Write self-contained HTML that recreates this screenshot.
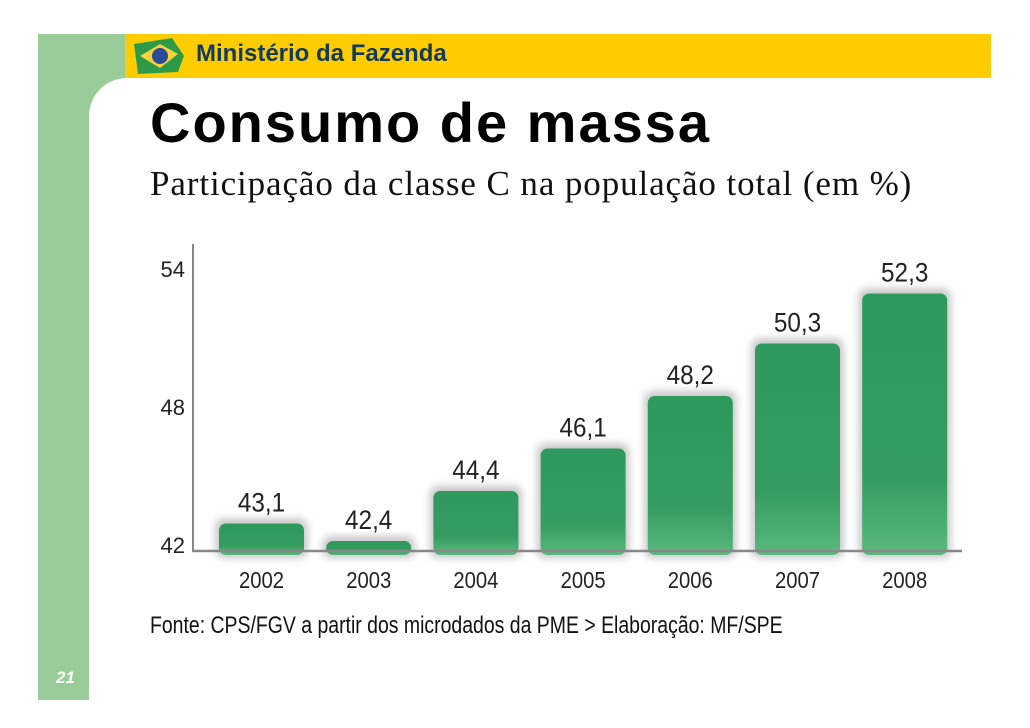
<!DOCTYPE html>
<html><head><meta charset="utf-8"><style>
body{margin:0;width:1030px;height:728px;background:#fff;position:relative;overflow:hidden;font-family:"Liberation Sans",sans-serif}
.abs{position:absolute}
</style></head><body>
<div class="abs" style="left:38px;top:34px;width:51px;height:666px;background:#99cc99"></div>
<div class="abs" style="left:89px;top:34px;width:40px;height:80px;background:#99cc99"></div>
<div class="abs" style="left:89px;top:78px;width:80px;height:80px;background:#fff;border-top-left-radius:38px"></div>
<div class="abs" style="left:125px;top:34px;width:866px;height:44px;background:#ffcc00"></div>
<svg class="abs" style="left:132px;top:36px" width="56" height="40"><polygon points="2,8 40,2 52,20 46,36 6,38" fill="#2e9a48"/><polygon points="8,20 28,8 46,18 28,32" fill="#f3d23a"/><circle cx="28" cy="20" r="8" fill="#2a4a9a"/></svg>
<div class="abs" style="left:196px;top:40px;font-size:24px;font-weight:bold;color:#123a5a">Ministério da Fazenda</div>
<div class="abs" style="left:150px;top:90px;font-size:56px;font-weight:900;color:#000;letter-spacing:2px">Consumo de massa</div>
<div class="abs" style="left:150px;top:164px;font-family:'Liberation Serif',serif;font-size:35px;color:#111;letter-spacing:0.9px">Participação da classe C na população total (em %)</div>
<svg class="abs" id="chart" style="left:0;top:0" width="1030" height="728"></svg>
<div class="abs" style="left:150px;top:612px;font-size:24px;color:#111;transform:scaleX(0.81);transform-origin:0 0;white-space:nowrap">Fonte: CPS/FGV a partir dos microdados da PME &gt; Elaboração: MF/SPE</div>
<div class="abs" style="left:56px;top:668px;font-size:17px;font-weight:bold;font-style:italic;color:#fff">21</div>
<script>
const categories=["2002","2003","2004","2005","2006","2007","2008"];
const values=[43.1,42.4,44.4,46.1,48.2,50.3,52.3];
const valueLabels=["43,1","42,4","44,4","46,1","48,2","50,3","52,3"];
const ticks=[42,48,54];
const svg=document.getElementById('chart');
const NS='http://www.w3.org/2000/svg';
const y=v=>551-(v-42)*25;
const yt=v=>545-(v-42)*23;
const x=i=>261.5+i*107.2;
function mk(t,a){const e=document.createElementNS(NS,t);for(const k in a)e.setAttribute(k,a[k]);svg.appendChild(e);return e;}
const defs=mk('defs',{});
defs.innerHTML='<linearGradient id="g" x1="0" y1="0" x2="0" y2="1"><stop offset="0" stop-color="#2f9a5e"/><stop offset="0.7" stop-color="#349c60"/><stop offset="1" stop-color="#5ab87e"/></linearGradient><filter id="s" x="-20%" y="-20%" width="140%" height="140%"><feGaussianBlur stdDeviation="4"/></filter>';
const ax=mk('line',{x1:193,y1:244,x2:193,y2:552,stroke:'#888','stroke-width':2});

values.forEach((v,i)=>{
 const sh=mk('rect',{x:x(i)-46,y:y(v)-5,width:92,height:551-y(v)+12,rx:8,fill:'#999',opacity:0.55,filter:'url(#s)'});
 
 const r=mk('rect',{x:x(i)-42.5,y:y(v),width:85,height:551-y(v)+4,rx:7,fill:'url(#g)'});
 
 const t=mk('text',{x:x(i),y:y(v)-12,'text-anchor':'middle','font-size':27,fill:'#222',transform:'translate('+x(i)+',0) scale(0.9,1) translate('+(-x(i))+',0)'});
 t.textContent=valueLabels[i];
 const c=mk('text',{x:x(i),y:588,'text-anchor':'middle','font-size':23,fill:'#222',transform:'translate('+x(i)+',0) scale(0.88,1) translate('+(-x(i))+',0)'});
 c.textContent=categories[i];
});
const bl=mk('line',{x1:192,y1:551,x2:962,y2:551,stroke:'#888','stroke-width':2.5});

ticks.forEach(v=>{
 const t=mk('text',{x:185,y:yt(v)+8,'text-anchor':'end','font-size':22,fill:'#222'});
 t.textContent=v;
});
</script>
</body></html>
